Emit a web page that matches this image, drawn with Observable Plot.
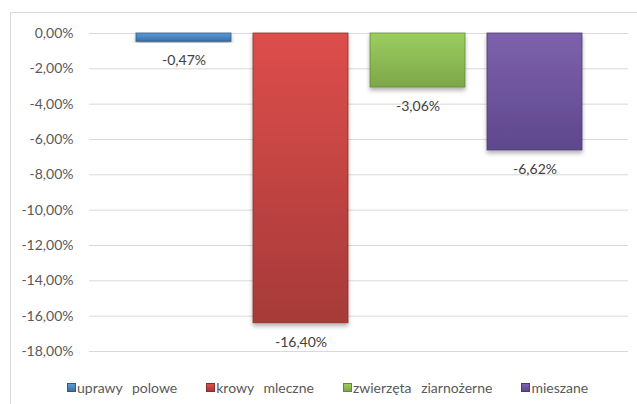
<!DOCTYPE html>
<html><head><meta charset="utf-8">
<script src="https://cdn.jsdelivr.net/npm/d3@7"></script>
<script src="https://cdn.jsdelivr.net/npm/@observablehq/plot@0.6"></script>
<style>
body{margin:0;background:#fff;font-family:Lato,sans-serif;}
#wrap{position:relative;width:637px;height:404px;overflow:hidden;background:#fff;}
#frame{position:absolute;left:10px;top:12px;width:720px;height:520px;border:1px solid #d9d9d9;box-sizing:border-box;}
#chart{position:absolute;left:0;top:0;}
#legend{position:absolute;top:379px;left:67px;display:flex;gap:29px;font-size:14px;color:#595959;word-spacing:6px;white-space:nowrap;}
#legend .item{display:flex;align-items:center;}
#legend .sw{width:9px;height:9px;margin-right:1px;box-sizing:border-box;}
</style>
</head><body>
<div id="wrap"><div id="frame"></div><div id="chart"></div><div id="legend"></div></div>
<script>
const categories = ["uprawy polowe", "krowy mleczne", "zwierzęta ziarnożerne", "mieszane"];
const values = [-0.47, -16.40, -3.06, -6.62];
const yTicks = [0, -2, -4, -6, -8, -10, -12, -14, -16, -18];
const topColors = ["#5d9bd6", "#dd4e4c", "#9ace5e", "#7d61ac"];
const bottomColors = ["#3b6ea6", "#a63a38", "#7ea64a", "#5e488c"];
const edgeColors = ["#2f5a88", "#8a2e2c", "#66893a", "#4b3973"];

const fmt = v => v.toFixed(2).replace(".", ",") + "%";
const data = categories.map((c, i) => ({cat: c, value: values[i], i}));

const svg = Plot.plot({
  width: 637,
  height: 370,
  marginLeft: 89,
  marginRight: 9,
  marginTop: 33,
  marginBottom: 19,
  style: {fontFamily: "Lato, sans-serif", fontSize: "14px", color: "#595959", background: "transparent"},
  x: {domain: categories, range: [125, 593], paddingInner: 0.188, paddingOuter: 0.094, axis: null},
  y: {domain: [-18, 0], label: null},
  marks: [
    Plot.gridY(yTicks, {stroke: "#d9d9d9", strokeOpacity: 1, strokeWidth: 1}),
    Plot.axisY(yTicks, {tickSize: 0, tickPadding: 16, tickFormat: fmt, label: null, fontSize: 14}),
    ...data.map(d => Plot.barY([d], {
      x: "cat", y: "value",
      fill: `url(#grad${d.i})`,
      stroke: edgeColors[d.i], strokeWidth: 1, strokeOpacity: 0.8
    })),
    Plot.text(data, {x: "cat", y: "value", text: d => fmt(d.value), dy: 19, fill: "#404040", fontSize: 14})
  ]
});

const s = d3.select(svg);
const defs = s.insert("defs", ":first-child");
topColors.forEach((c, i) => {
  const g = defs.append("linearGradient").attr("id", `grad${i}`).attr("x1", 0).attr("y1", 0).attr("x2", 0).attr("y2", 1);
  g.append("stop").attr("offset", "0%").attr("stop-color", c);
  g.append("stop").attr("offset", "100%").attr("stop-color", bottomColors[i]);
});
const f = defs.append("filter").attr("id", "shadow").attr("x", "-10%").attr("y", "-10%").attr("width", "130%").attr("height", "130%");
f.append("feDropShadow").attr("dx", 0).attr("dy", 3).attr("stdDeviation", 2).attr("flood-color", "#000").attr("flood-opacity", 0.3);
s.selectAll("g[aria-label^='bar'] rect").attr("style", "filter:url(#shadow)");

document.getElementById("chart").appendChild(svg);

const legend = d3.select("#legend");
categories.forEach((c, i) => {
  const it = legend.append("div").attr("class", "item");
  it.append("div").attr("class", "sw")
    .style("background", `linear-gradient(${topColors[i]}, ${bottomColors[i]})`)
    .style("border", `1px solid ${edgeColors[i]}`);
  it.append("span").text(c);
});
</script>
</body></html>
